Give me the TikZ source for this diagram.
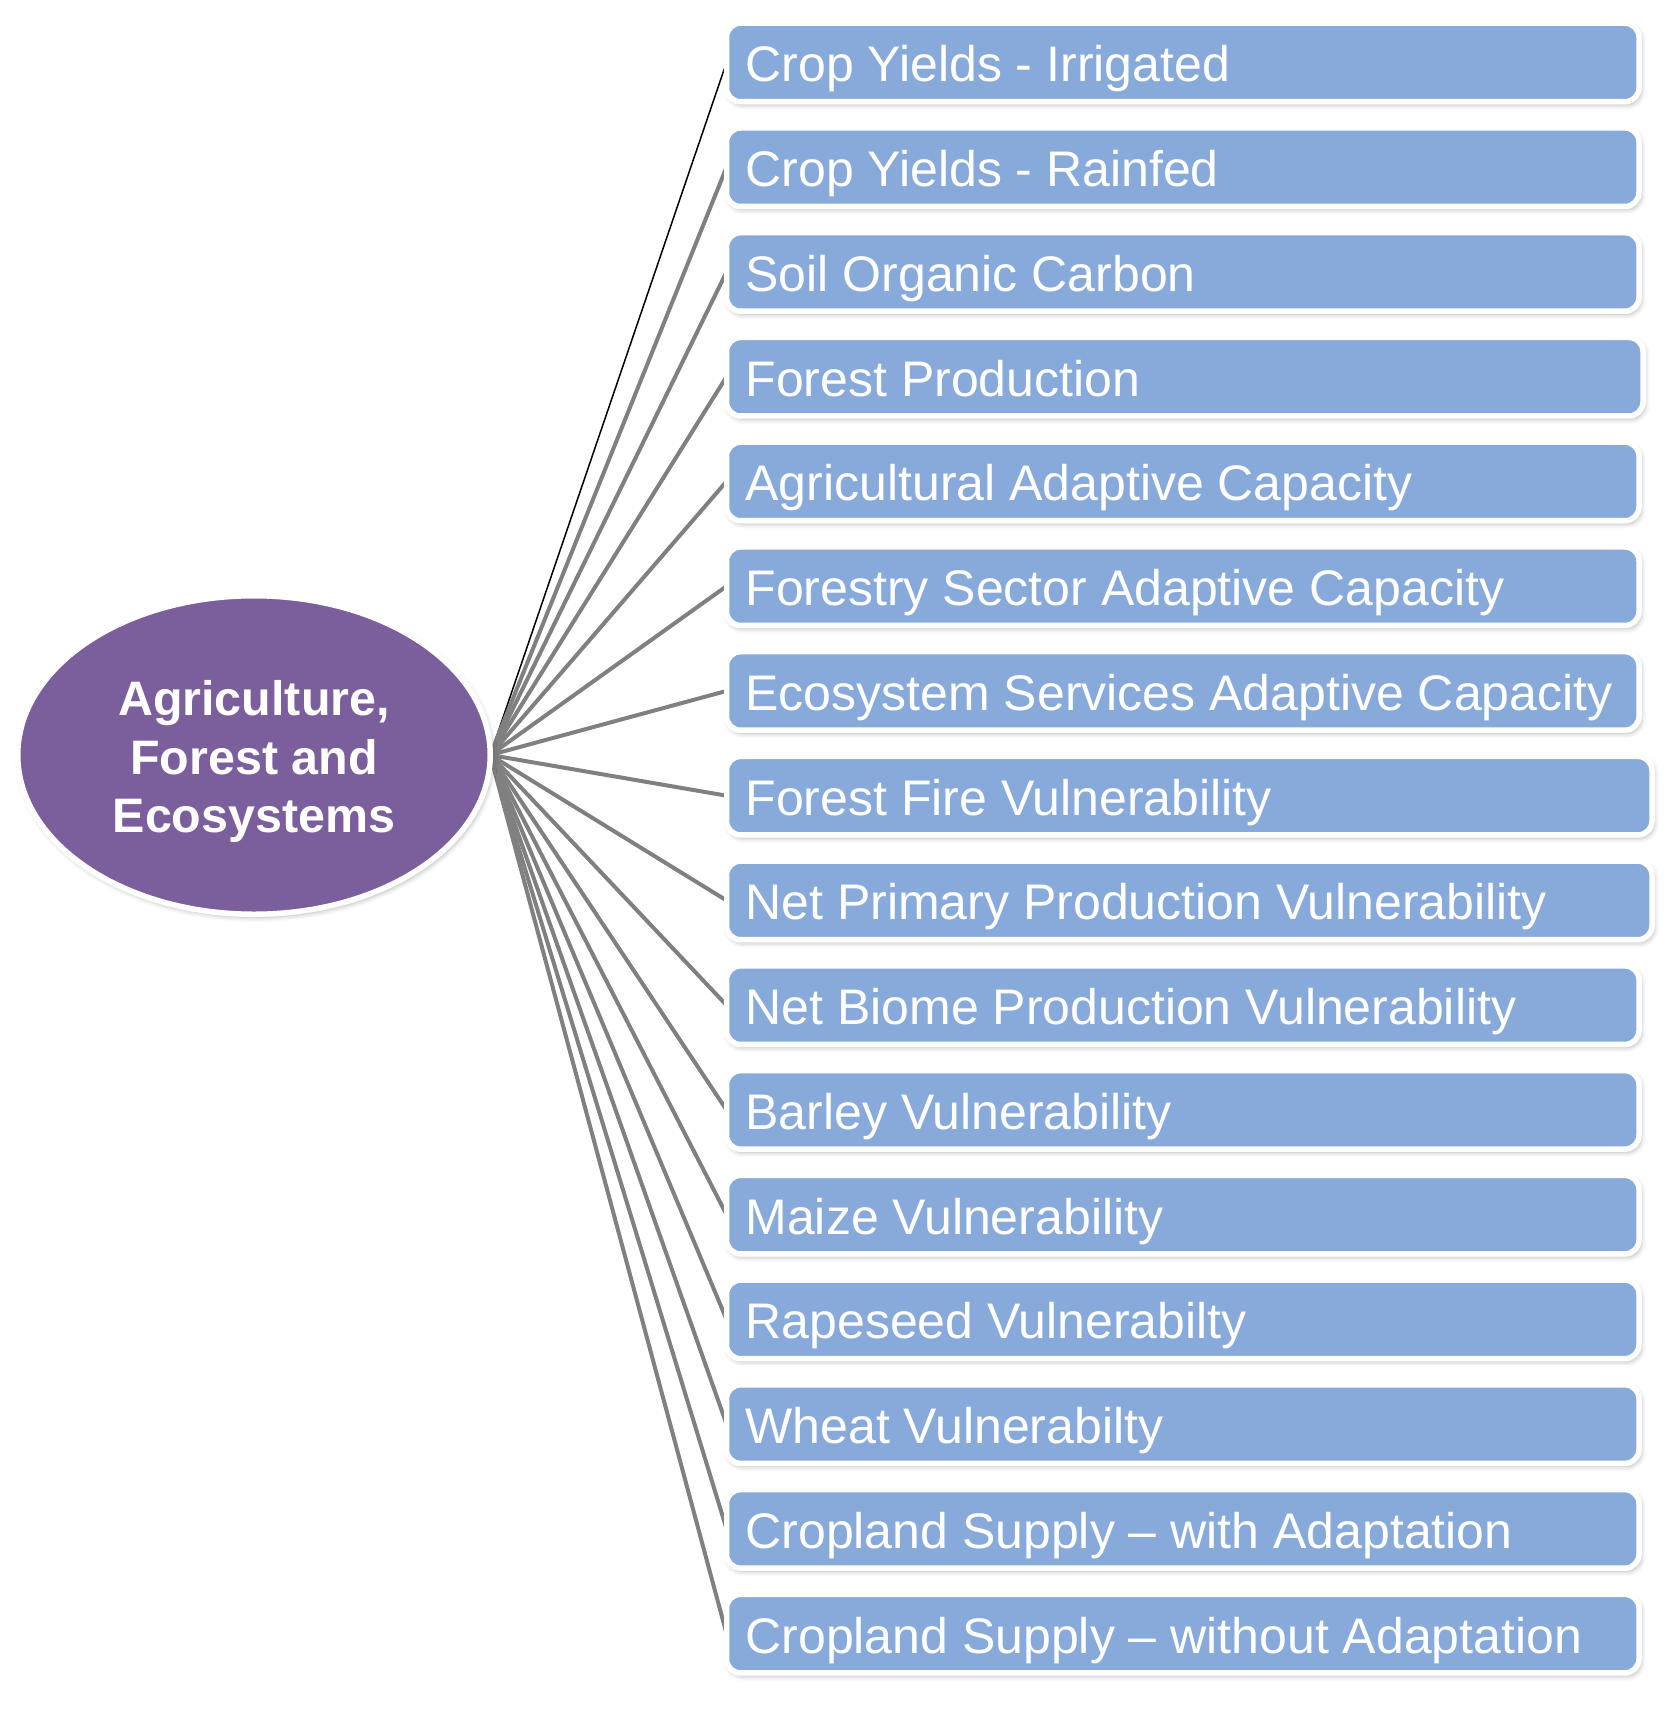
\documentclass[tikz,border=0pt]{standalone}
\usepackage{fontspec}
\setmainfont{Liberation Sans}
\definecolor{hubpurple}{HTML}{7B5F9D}
\definecolor{boxblue}{HTML}{88AADA}
\definecolor{linkgray}{HTML}{808080}
\usetikzlibrary{positioning,shapes.geometric,backgrounds,shadows.blur}

\begin{document}
\begin{tikzpicture}[
  x=0.5pt, y=-0.5pt,
  node distance=13.12pt,
  hub/.style={ellipse, draw=white, line width=2.75pt, fill=hubpurple,
              minimum width=236.25pt, minimum height=159.25pt, inner sep=0pt, outer sep=0pt,
              blur shadow={shadow xshift=1pt, shadow yshift=-1.5pt, shadow blur radius=2.5pt, shadow opacity=30}},
  hubtext/.style={text=white, align=center, inner sep=0pt,
                  font=\bfseries\fontsize{24.2}{29.4}\selectfont},
  itembox/.style={draw=white, line width=2.75pt, fill=boxblue, rounded corners=7pt, text=white,
                  text width=437.25pt, inner xsep=9.5pt, inner ysep=0pt, outer sep=0pt,
                  minimum height=39.25pt, align=flush left, font=\fontsize{25}{30}\selectfont,
                  text height=20pt, text depth=0.5pt,
                  blur shadow={shadow xshift=1pt, shadow yshift=-1.5pt, shadow blur radius=2.5pt, shadow opacity=30}},
  wide/.style={text width=439.25pt},
  wider/.style={text width=443.75pt},
  link/.style={linkgray, line width=2pt},
  thinlink/.style={black, line width=0.75pt}
]
  \useasboundingbox (0,0) rectangle (1671,1717);

  \node[hub] (hub) at (254,755) {};
  \node[hubtext] (hublabel) at ([yshift=-3.25pt]hub.center) {Agriculture,\\Forest and\\Ecosystems};

  % Indicator boxes
  \node[itembox, anchor=west] (irrig) at (726.5,62.5) {Crop Yields - Irrigated};
  \node[itembox, below=of irrig.south west, anchor=north west] (rainfed) {Crop Yields - Rainfed};
  \node[itembox, below=of rainfed.south west, anchor=north west] (soilc) {Soil Organic Carbon};
  \node[itembox, wide, below=of soilc.south west, anchor=north west] (forprod) {Forest Production};
  \node[itembox, below=of forprod.south west, anchor=north west] (agcap) {Agricultural Adaptive Capacity};
  \node[itembox, below=of agcap.south west, anchor=north west] (forcap) {Forestry Sector Adaptive Capacity};
  \node[itembox, below=of forcap.south west, anchor=north west] (ecocap) {Ecosystem Services Adaptive Capacity};
  \node[itembox, wider, below=of ecocap.south west, anchor=north west] (fire) {Forest Fire Vulnerability};
  \node[itembox, wider, below=of fire.south west, anchor=north west] (npp) {Net Primary Production Vulnerability};
  \node[itembox, below=of npp.south west, anchor=north west] (nbp) {Net Biome Production Vulnerability};
  \node[itembox, below=of nbp.south west, anchor=north west] (barley) {Barley Vulnerability};
  \node[itembox, below=of barley.south west, anchor=north west] (maize) {Maize Vulnerability};
  \node[itembox, below=of maize.south west, anchor=north west] (rapeseed) {Rapeseed Vulnerabilty};
  \node[itembox, below=of rapeseed.south west, anchor=north west] (wheat) {Wheat Vulnerabilty};
  \node[itembox, below=of wheat.south west, anchor=north west] (cropad) {Cropland Supply – with Adaptation};
  \node[itembox, below=of cropad.south west, anchor=north west] (cropnoad) {Cropland Supply – without Adaptation};

  % Connectors from the hub
  \begin{scope}[on background layer]
    \draw[thinlink] (hub.east) -- (irrig.west);
    \draw[link] (hub.east) -- (rainfed.west);
    \draw[link] (hub.east) -- (soilc.west);
    \draw[link] (hub.east) -- (forprod.west);
    \draw[link] (hub.east) -- (agcap.west);
    \draw[link] (hub.east) -- (forcap.west);
    \draw[link] (hub.east) -- (ecocap.west);
    \draw[link] (hub.east) -- (fire.west);
    \draw[link] (hub.east) -- (npp.west);
    \draw[link] (hub.east) -- (nbp.west);
    \draw[link] (hub.east) -- (barley.west);
    \draw[link] (hub.east) -- (maize.west);
    \draw[link] (hub.east) -- (rapeseed.west);
    \draw[link] (hub.east) -- (wheat.west);
    \draw[link] (hub.east) -- (cropad.west);
    \draw[link] (hub.east) -- (cropnoad.west);
  \end{scope}
\end{tikzpicture}
\end{document}
